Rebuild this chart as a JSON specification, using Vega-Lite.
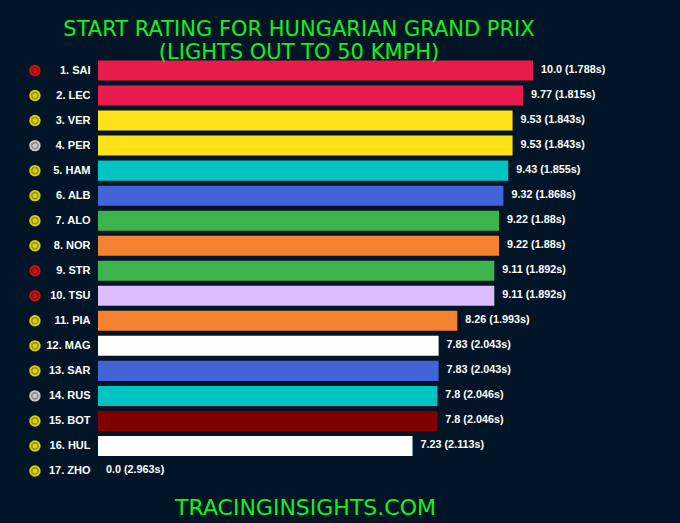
{"$schema":"https://vega.github.io/schema/vega-lite/v6.json","width":582,"height":425.5,"autosize":"none","padding":{"left":98,"top":58,"right":0,"bottom":39.5},"background":"#021526","view":{"stroke":null},"title":{"text":["START RATING FOR HUNGARIAN GRAND PRIX","(LIGHTS OUT TO 50 KMPH)"],"color":"#12F01E","font":"DejaVu Sans","fontSize":21,"fontWeight":"normal","anchor":"middle","frame":"group","dx":-90,"offset":-5,"lineHeight":23},"datasets":{"d":[{"driver":"1. SAI","rating":10.0,"time":"1.788s","team":"Ferrari","tyre":"SOFT"},{"driver":"2. LEC","rating":9.77,"time":"1.815s","team":"Ferrari","tyre":"MEDIUM"},{"driver":"3. VER","rating":9.53,"time":"1.843s","team":"Red Bull","tyre":"MEDIUM"},{"driver":"4. PER","rating":9.53,"time":"1.843s","team":"Red Bull","tyre":"HARD"},{"driver":"5. HAM","rating":9.43,"time":"1.855s","team":"Mercedes","tyre":"MEDIUM"},{"driver":"6. ALB","rating":9.32,"time":"1.868s","team":"Williams","tyre":"MEDIUM"},{"driver":"7. ALO","rating":9.22,"time":"1.88s","team":"Aston Martin","tyre":"MEDIUM"},{"driver":"8. NOR","rating":9.22,"time":"1.88s","team":"McLaren","tyre":"MEDIUM"},{"driver":"9. STR","rating":9.11,"time":"1.892s","team":"Aston Martin","tyre":"SOFT"},{"driver":"10. TSU","rating":9.11,"time":"1.892s","team":"AlphaTauri","tyre":"SOFT"},{"driver":"11. PIA","rating":8.26,"time":"1.993s","team":"McLaren","tyre":"MEDIUM"},{"driver":"12. MAG","rating":7.83,"time":"2.043s","team":"Haas","tyre":"MEDIUM"},{"driver":"13. SAR","rating":7.83,"time":"2.043s","team":"Williams","tyre":"MEDIUM"},{"driver":"14. RUS","rating":7.8,"time":"2.046s","team":"Mercedes","tyre":"HARD"},{"driver":"15. BOT","rating":7.8,"time":"2.046s","team":"Alfa Romeo","tyre":"MEDIUM"},{"driver":"16. HUL","rating":7.23,"time":"2.113s","team":"Haas","tyre":"MEDIUM"},{"driver":"17. ZHO","rating":0.0,"time":"2.963s","team":"Alfa Romeo","tyre":"MEDIUM"}]},"data":{"name":"d"},"transform":[{"calculate":"(datum.rating === 0 ? '0.0' : datum.rating === 10 ? '10.0' : format(datum.rating, '.3~f')) + ' (' + datum.time + ')'","as":"label"}],"encoding":{"y":{"field":"driver","type":"nominal","sort":null,"scale":{"paddingInner":0.2,"paddingOuter":0.1},"axis":{"title":null,"domain":false,"ticks":false,"grid":false,"labelColor":"#FFFFFF","labelFont":"Liberation Sans","labelFontSize":11,"labelFontWeight":"bold","labelPadding":8}}},"layer":[{"mark":{"type":"bar","clip":false},"encoding":{"x":{"field":"rating","type":"quantitative","scale":{"domain":[0,13.379],"nice":false,"zero":true},"axis":{"labels":false,"ticks":false,"grid":false,"domain":false,"title":"TRACINGINSIGHTS.COM","titleColor":"#12F01E","titleFont":"DejaVu Sans","titleFontSize":22,"titleFontWeight":"normal","titleX":207,"titleY":23.5,"titleBaseline":"middle","titleAnchor":"middle"}},"color":{"field":"team","type":"nominal","legend":null,"scale":{"domain":["Ferrari","Red Bull","Mercedes","Williams","Aston Martin","McLaren","AlphaTauri","Haas","Alfa Romeo"],"range":["#E81C4C","#FFE119","#00C4C4","#4363D8","#3CB44B","#F58231","#DCBEFF","#FFFFFF","#800000"]}}}},{"mark":{"type":"text","align":"left","baseline":"middle","dx":8,"dy":-1,"color":"#FFFFFF","font":"Liberation Sans","fontSize":10.8,"fontWeight":"bold"},"encoding":{"x":{"field":"rating","type":"quantitative"},"text":{"field":"label"}}},{"mark":{"type":"point","filled":true,"size":130,"opacity":1},"encoding":{"x":{"datum":-1.45},"color":{"field":"tyre","type":"nominal","legend":null,"scale":{"domain":["SOFT","MEDIUM","HARD"],"range":["#C81414","#D8D010","#C8C8C8"]}}}},{"mark":{"type":"point","filled":false,"size":40,"strokeWidth":1.5,"color":"#000000","opacity":0.3},"encoding":{"x":{"datum":-1.45}}}],"resolve":{"scale":{"color":"independent"}},"config":{"style":{"cell":{"stroke":null}}}}
